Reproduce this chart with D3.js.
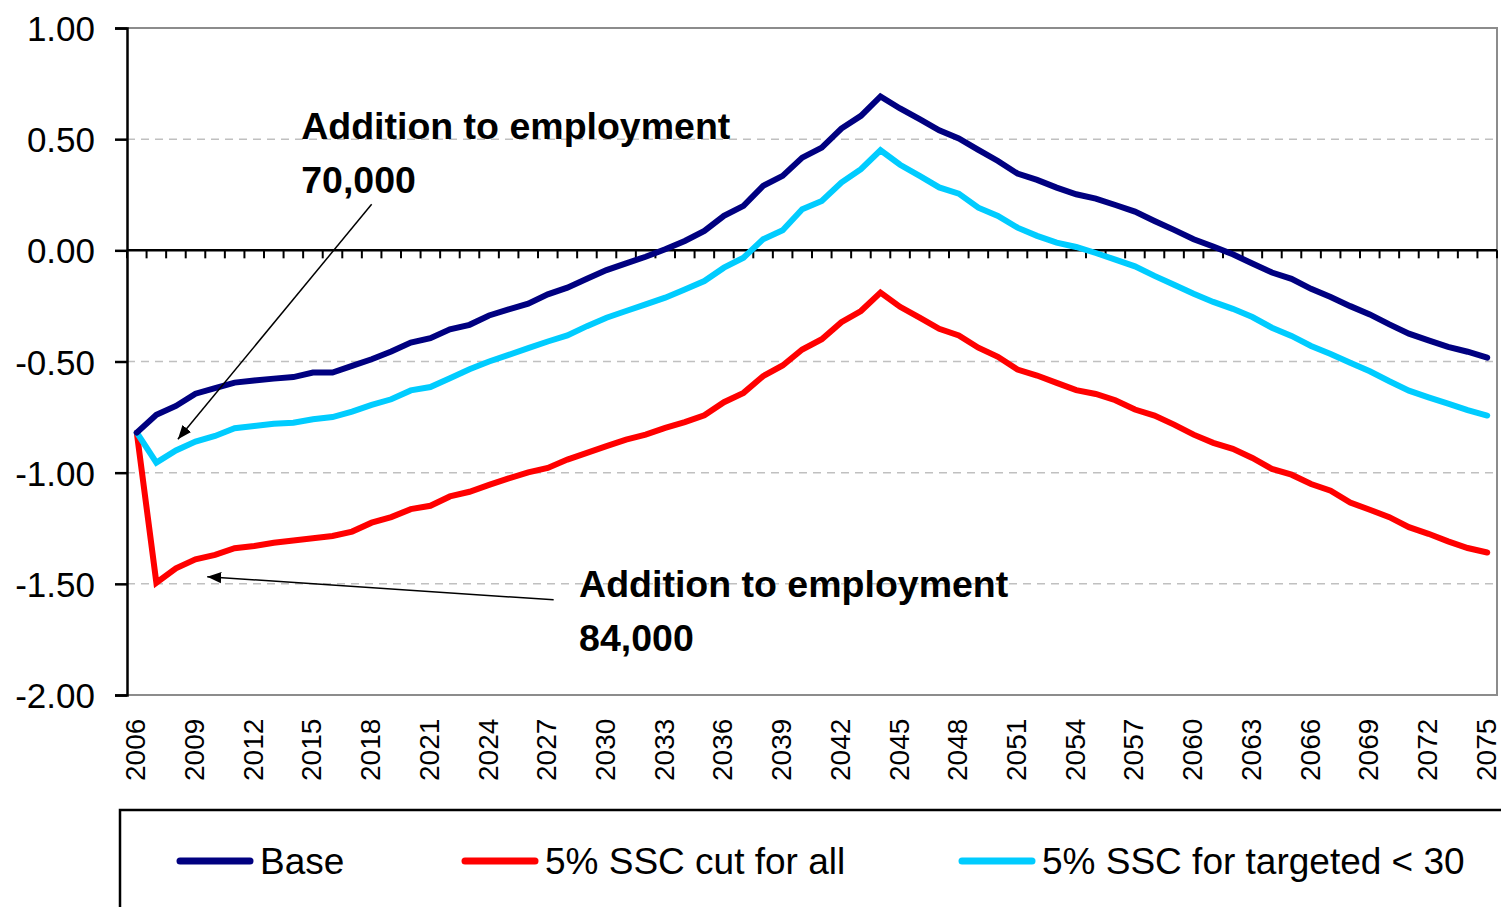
<!DOCTYPE html>
<html>
<head>
<meta charset="utf-8">
<script src="https://cdn.jsdelivr.net/npm/d3@7"></script>
<style>
  body { margin: 0; background: #fff; }
  svg { display: block; font-family: "Liberation Sans", Arial, sans-serif; }
</style>
</head>
<body>
<div id="chart"></div>
<script>
const years = d3.range(2006, 2076);

const base = [
  -0.82, -0.74, -0.70, -0.645, -0.62, -0.595, -0.585, -0.577, -0.57, -0.55,
  -0.55, -0.52, -0.49, -0.455, -0.415, -0.395, -0.355, -0.335, -0.293, -0.266,
  -0.24, -0.198, -0.168, -0.128, -0.089, -0.059, -0.029, 0.005, 0.042, 0.087,
  0.155, 0.20, 0.29, 0.335, 0.417, 0.462, 0.548, 0.605, 0.692, 0.638,
  0.59, 0.54, 0.503, 0.452, 0.402, 0.345, 0.317, 0.282, 0.252, 0.233,
  0.204, 0.174, 0.132, 0.092, 0.05, 0.017, -0.018, -0.059, -0.10, -0.128,
  -0.173, -0.21, -0.251, -0.288, -0.333, -0.375, -0.405, -0.434, -0.456, -0.483
];

const cutAll = [
  -0.82, -1.495, -1.43, -1.39, -1.37, -1.34, -1.33, -1.315, -1.305, -1.295,
  -1.285, -1.265, -1.225, -1.20, -1.164, -1.149, -1.107, -1.086, -1.055, -1.026,
  -0.999, -0.979, -0.941, -0.911, -0.881, -0.851, -0.829, -0.799, -0.773, -0.742,
  -0.683, -0.641, -0.566, -0.518, -0.446, -0.40, -0.323, -0.273, -0.19, -0.254,
  -0.303, -0.353, -0.383, -0.438, -0.479, -0.536, -0.563, -0.596, -0.629, -0.646,
  -0.674, -0.716, -0.743, -0.784, -0.829, -0.866, -0.893, -0.934, -0.983, -1.009,
  -1.051, -1.081, -1.134, -1.167, -1.20, -1.245, -1.275, -1.309, -1.339, -1.359
];

const targeted = [
  -0.82, -0.955, -0.90, -0.86, -0.835, -0.80, -0.79, -0.78, -0.775, -0.76,
  -0.75, -0.725, -0.695, -0.67, -0.63, -0.615, -0.575, -0.535, -0.50, -0.47,
  -0.44, -0.41, -0.383, -0.341, -0.303, -0.273, -0.243, -0.213, -0.176, -0.138,
  -0.078, -0.033, 0.05, 0.09, 0.185, 0.222, 0.305, 0.365, 0.45, 0.385,
  0.335, 0.283, 0.255, 0.192, 0.155, 0.102, 0.065, 0.035, 0.015, -0.012,
  -0.042, -0.072, -0.115, -0.155, -0.195, -0.232, -0.263, -0.30, -0.348, -0.385,
  -0.43, -0.466, -0.506, -0.544, -0.589, -0.631, -0.661, -0.689, -0.719, -0.743
];

const seriesNames = ["Base", "5% SSC cut for all", "5% SSC for targeted < 30"];
const seriesColors = ["#000080", "#ff0000", "#00ccff"];
const yTicks = [1.0, 0.5, 0.0, -0.5, -1.0, -1.5, -2.0];

// annotations: text lines, label anchor (year, value), arrow from -> to (year, value)
const notes = [
  { lines: ["Addition to employment", "70,000"], at: [2014.4, 0.50], from: [2018.0, 0.207], to: [2008.1, -0.85] },
  { lines: ["Addition to employment", "84,000"], at: [2028.6, -1.56], from: [2027.3, -1.572], to: [2009.6, -1.468] }
];

const width = 1501, height = 907;
const plot = { left: 127, right: 1497, top: 28, bottom: 695 };

const svg = d3.select("#chart").append("svg")
  .attr("width", width)
  .attr("height", height);

const x = d3.scalePoint()
  .domain(years)
  .range([plot.left, plot.right])
  .padding(0.5);

const y = d3.scaleLinear()
  .domain([-2, 1])
  .range([plot.bottom, plot.top]);

// fractional year -> pixel
const xf = (yr) => x(years[0]) + (yr - years[0]) * x.step();

svg.append("defs").append("marker")
  .attr("id", "arrow")
  .attr("viewBox", "0 0 10 10")
  .attr("refX", 10)
  .attr("refY", 5)
  .attr("markerWidth", 14)
  .attr("markerHeight", 14)
  .attr("markerUnits", "userSpaceOnUse")
  .attr("orient", "auto")
  .append("path")
  .attr("d", "M0,1 L10,5 L0,9 Z")
  .attr("fill", "#000");

// dashed gridlines
svg.append("g")
  .selectAll("line")
  .data(yTicks.filter((d) => d !== 0 && d !== 1 && d !== -2))
  .enter()
  .append("line")
  .attr("x1", plot.left)
  .attr("x2", plot.right)
  .attr("y1", (d) => y(d))
  .attr("y2", (d) => y(d))
  .attr("stroke", "#c0c0c0")
  .attr("stroke-width", 1.5)
  .attr("stroke-dasharray", "8,6");

// frame (top, right, bottom in gray)
svg.append("path")
  .attr("d", `M${plot.left},${y(1)} H${plot.right} V${y(-2)} H${plot.left}`)
  .attr("fill", "none")
  .attr("stroke", "#8c8c8c")
  .attr("stroke-width", 2);

// y axis
const fmt = d3.format(".2f");
const yAxis = svg.append("g")
  .attr("transform", `translate(${plot.left},0)`)
  .call(d3.axisLeft(y).tickValues(yTicks).tickSize(12).tickFormat((d) => fmt(d).replace("\u2212", "-")));
yAxis.select(".domain").attr("stroke", "#000").attr("stroke-width", 2.5);
yAxis.selectAll(".tick line").attr("stroke", "#000").attr("stroke-width", 2.5);
yAxis.selectAll(".tick text")
  .attr("x", -32)
  .attr("dy", "0.36em")
  .style("font-size", "35px")
  .style("fill", "#000")
  .style("font-family", "'Liberation Sans', Arial, sans-serif");

// zero line with category boundary ticks
const zeroY = y(0);
svg.append("line")
  .attr("x1", plot.left)
  .attr("x2", plot.right)
  .attr("y1", zeroY)
  .attr("y2", zeroY)
  .attr("stroke", "#000")
  .attr("stroke-width", 2.5);

svg.append("g")
  .selectAll("line")
  .data(d3.range(years.length + 1))
  .enter()
  .append("line")
  .attr("x1", (i) => x(years[0]) - x.step() / 2 + i * x.step())
  .attr("x2", (i) => x(years[0]) - x.step() / 2 + i * x.step())
  .attr("y1", zeroY)
  .attr("y2", zeroY + 8)
  .attr("stroke", "#000")
  .attr("stroke-width", 2);

// x labels every 3 years
svg.append("g")
  .selectAll("text")
  .data(years.filter((d) => (d - 2006) % 3 === 0))
  .enter()
  .append("text")
  .attr("transform", (d) => `translate(${x(d) - 1},${plot.bottom + 86}) rotate(-90)`)
  .attr("dy", "0.34em")
  .attr("text-anchor", "start")
  .style("font-size", "28px")
  .text((d) => d);

// series lines
const allSeries = [base, cutAll, targeted];
const line = d3.line()
  .x((d, i) => x(years[i]))
  .y((d) => y(d));

[1, 2, 0].forEach((k) => {
  svg.append("path")
    .datum(allSeries[k])
    .attr("d", line)
    .attr("fill", "none")
    .attr("stroke", seriesColors[k])
    .attr("stroke-width", 6)
    .attr("stroke-linejoin", "miter")
    .attr("stroke-linecap", "round");
});

// annotations
notes.forEach((n) => {
  svg.append("line")
    .attr("x1", xf(n.from[0]))
    .attr("y1", y(n.from[1]))
    .attr("x2", xf(n.to[0]))
    .attr("y2", y(n.to[1]))
    .attr("stroke", "#000")
    .attr("stroke-width", 1.5)
    .attr("marker-end", "url(#arrow)");

  const t = svg.append("text")
    .attr("x", xf(n.at[0]))
    .attr("y", y(n.at[1]))
    .style("font-size", "37.5px")
    .style("font-weight", "bold");
  t.selectAll("tspan")
    .data(n.lines)
    .enter()
    .append("tspan")
    .attr("x", xf(n.at[0]))
    .attr("dy", (d, i) => (i === 0 ? 0 : 54))
    .text((d) => d);
});

// legend
svg.append("path")
  .attr("d", `M120,${height + 5} V810 H${width + 5}`)
  .attr("fill", "none")
  .attr("stroke", "#000")
  .attr("stroke-width", 2.5);

const legendX = [180, 465, 962];
const legend = svg.append("g")
  .selectAll("g")
  .data(seriesNames)
  .enter()
  .append("g")
  .attr("transform", (d, i) => `translate(${legendX[i]},861)`);

legend.append("line")
  .attr("x1", 0)
  .attr("x2", 70)
  .attr("stroke", (d, i) => seriesColors[i])
  .attr("stroke-width", 7)
  .attr("stroke-linecap", "round");

legend.append("text")
  .attr("x", 80)
  .attr("dy", "0.36em")
  .style("font-size", "37px")
  .text((d) => d);
</script>
</body>
</html>
